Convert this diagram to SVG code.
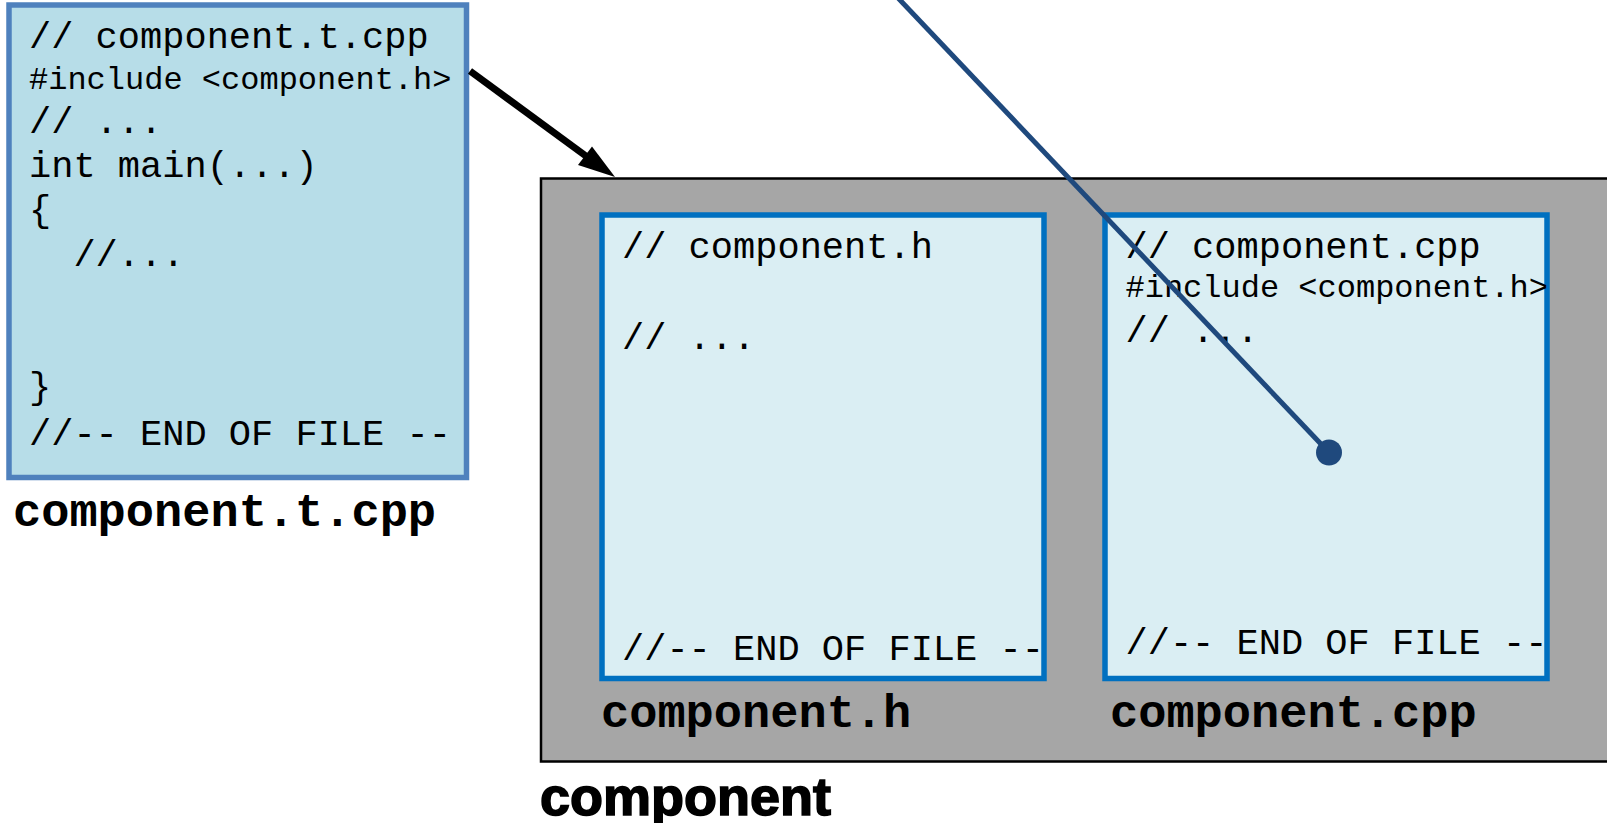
<svg xmlns="http://www.w3.org/2000/svg" width="1607" height="823" viewBox="0 0 1607 823">
  <style>
    .code { font-family: "Liberation Mono", "Courier New", monospace; font-size: 37px; fill: #000; }
    .inc { font-size: 32px; }
    .lbl { font-family: "Liberation Mono", "Courier New", monospace; font-weight: bold; font-size: 47px; fill: #000; }
    .file { fill: #DAEEF3; stroke: #0070C0; stroke-width: 5.5; }
  </style>
  <rect width="1607" height="823" fill="#FFFFFF"/>

  <g id="test-file">
    <rect x="9" y="5" width="457.5" height="472.5" fill="#B7DDE8" stroke="#4F81BD" stroke-width="5.5"/>
    <text class="code" x="29" y="48">// component.t.cpp</text>
    <text class="code inc" x="29" y="89">#include &lt;component.h&gt;</text>
    <text class="code" x="29" y="132.5">// ...</text>
    <text class="code" x="29" y="176.5">int main(...)</text>
    <text class="code" x="29" y="220.5">{</text>
    <text class="code" x="29" y="265.5" xml:space="preserve">  //...</text>
    <text class="code" x="29" y="398">}</text>
    <text class="code" x="29" y="445">//-- END OF FILE --</text>
    <text class="lbl" x="13" y="526">component.t.cpp</text>
  </g>

  <g id="component">
    <rect x="541" y="178.5" width="1070" height="583" fill="#A6A6A6" stroke="#000" stroke-width="2.5"/>
    <text x="540" y="815" font-family="'Liberation Sans', Arial, sans-serif" font-weight="bold" font-size="54" fill="#000" stroke="#000" stroke-width="1.6">component</text>
  </g>

  <g id="component-h">
    <rect class="file" x="602" y="215" width="442" height="463.5"/>
    <text class="code" x="622" y="257.5">// component.h</text>
    <text class="code" x="622" y="348.5">// ...</text>
    <text class="code" x="622" y="660">//-- END OF FILE --</text>
    <text class="lbl" x="601" y="727">component.h</text>
  </g>

  <g id="component-cpp">
    <rect class="file" x="1105" y="215" width="442" height="463.5"/>
    <text class="code" x="1125.5" y="257.5">// component.cpp</text>
    <text class="code inc" x="1125.5" y="297">#include &lt;component.h&gt;</text>
    <text class="code" x="1125.5" y="341.5">// ...</text>
    <text class="code" x="1125.5" y="654">//-- END OF FILE --</text>
    <text class="lbl" x="1110" y="727">component.cpp</text>
  </g>

  <g id="connectors">
    <line x1="470" y1="71" x2="590" y2="159" stroke="#000" stroke-width="7"/>
    <polygon points="615,177 592,146.5 578,165" fill="#000"/>
    <line x1="890.5" y1="-10" x2="1329" y2="452.5" stroke="#1F497D" stroke-width="5"/>
    <circle cx="1329" cy="452.5" r="13" fill="#1F497D"/>
  </g>
</svg>
